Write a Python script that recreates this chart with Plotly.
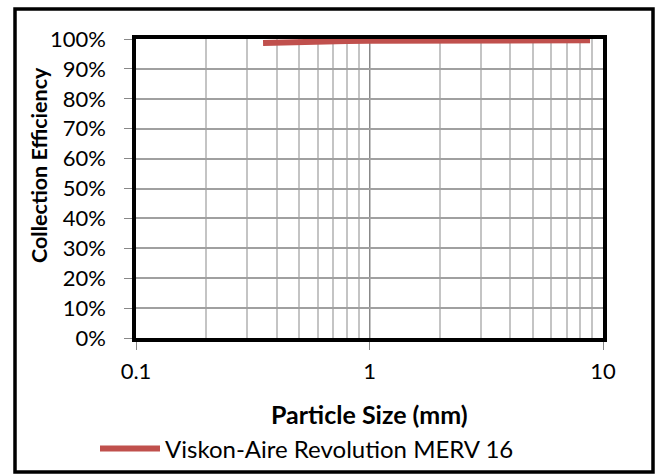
import plotly.graph_objects as go

# Data
particle_size_mm = [0.35, 0.45, 0.6, 0.8, 1.0, 1.5, 2.0, 3.0, 5.0, 8.8]
collection_eff = [0.987, 0.990, 0.992, 0.993, 0.994, 0.995, 0.995, 0.996, 0.996, 0.996]
series_name = "Viskon-Aire Revolution MERV 16"
y_tickvals = [i / 10 for i in range(11)]
y_ticktext = [f"{i*10}%" for i in range(11)]
x_tickvals = [0.1, 1, 10]
x_ticktext = ["0.1", "1", "10"]

FONT = "Lato"
L, R, T, B = 136, 56, 39, 137
W, H = 659, 475
pw, ph = W - L - R, H - T - B

def px_x(x):
    return (x - L) / pw

def px_y(y):
    return (H - B - y) / ph

fig = go.Figure()
fig.add_trace(go.Scatter(
    x=particle_size_mm, y=collection_eff, mode="lines", name=series_name,
    line=dict(color="#C0504D", width=6), showlegend=True,
))

fig.update_layout(
    width=W, height=H,
    margin=dict(l=L, r=R, t=T, b=B, pad=0, autoexpand=False),
    paper_bgcolor="white", plot_bgcolor="white",
    font=dict(family=FONT, size=22, color="black"),
    showlegend=True,
    legend=dict(orientation="h", x=px_x(95), xanchor="left", y=px_y(449), yanchor="middle",
                font=dict(family=FONT, size=24, color="black"), itemwidth=60,
                bgcolor="rgba(0,0,0,0)", borderwidth=0),
    xaxis=dict(
        type="log", range=[-1, 1], automargin=False,
        tickvals=x_tickvals, ticktext=x_ticktext,
        ticks="outside", ticklen=8, tickwidth=1.3, tickcolor="#888888",
        ticklabelstandoff=3,
        showgrid=True, gridcolor="#888888", gridwidth=1.3,
        minor=dict(dtick="D1", showgrid=True, gridcolor="#c4c4c4", gridwidth=1.5, ticks=""),
        showline=True, linecolor="black", linewidth=3.5, mirror=True,
        zeroline=False, layer="below traces",
        tickfont=dict(family=FONT, size=22),
    ),
    yaxis=dict(
        range=[0, 1], automargin=False,
        tickvals=y_tickvals, ticktext=y_ticktext,
        ticks="outside", ticklen=8, tickwidth=1.3, tickcolor="#888888",
        ticklabelstandoff=14,
        showgrid=True, gridcolor="#a0a0a0", gridwidth=1.5,
        showline=True, linecolor="black", linewidth=3.5, mirror=True,
        zeroline=False, layer="below traces",
        tickfont=dict(family=FONT, size=22),
    ),
    annotations=[
        dict(text="<b>Particle Size (mm)</b>", xref="paper", yref="paper",
             x=0.5, y=px_y(414), xanchor="center", yanchor="middle",
             showarrow=False, font=dict(family=FONT, size=25)),
        dict(text="<b>Collection Efficiency</b>", xref="paper", yref="paper",
             x=px_x(39), y=px_y(165), xanchor="center", yanchor="middle",
             textangle=-90, showarrow=False, font=dict(family=FONT, size=21.5)),
    ],
    shapes=[
        dict(type="rect", xref="paper", yref="paper",
             x0=px_x(15), x1=px_x(653), y0=px_y(472), y1=px_y(9),
             line=dict(color="black", width=3.5), fillcolor="rgba(0,0,0,0)", layer="below"),
    ],
)

fig.write_html("out.html", post_script="document.body.style.margin='0px';",
               config={"displayModeBar": False})
